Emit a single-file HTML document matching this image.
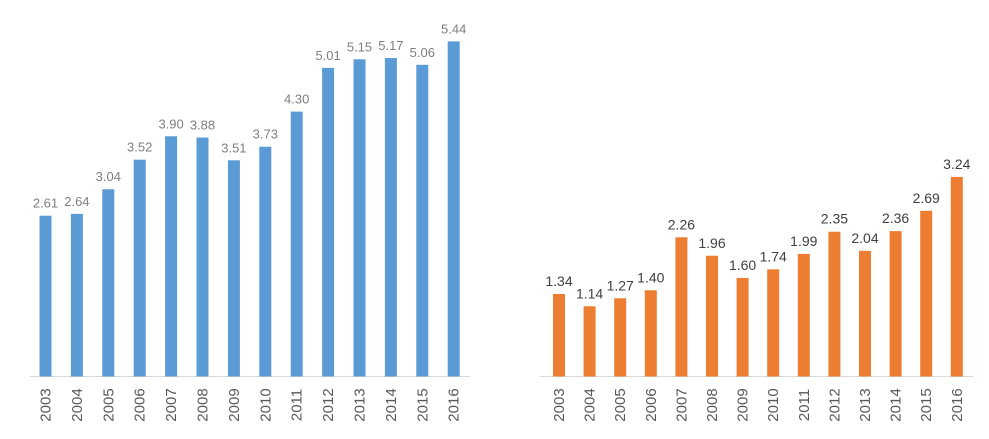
<!DOCTYPE html>
<html><head><meta charset="utf-8"><style>
body{margin:0;background:#fff;}
svg{display:block;font-family:"Liberation Sans",sans-serif;}
</style></head><body>
<svg width="989" height="439" id="svg"></svg>
<script>
const years=["2003","2004","2005","2006","2007","2008","2009","2010","2011","2012","2013","2014","2015","2016"];
const leftValues=[2.61,2.64,3.04,3.52,3.90,3.88,3.51,3.73,4.30,5.01,5.15,5.17,5.06,5.44];
const rightValues=[1.34,1.14,1.27,1.40,2.26,1.96,1.60,1.74,1.99,2.35,2.04,2.36,2.69,3.24];
const NS="http://www.w3.org/2000/svg";
const svg=document.getElementById('svg');
function mk(t,a){const e=document.createElementNS(NS,t);for(const k in a)e.setAttribute(k,a[k]);svg.appendChild(e);return e;}
const baseY=376.5, pxPerUnit=61.6;
function yScale(v){return baseY-v*pxPerUnit;}
function drawChart(prefix,vals,x0,step,axL,axR,color,lblColor,lblSize){
  const ax=mk('line',{x1:axL,x2:axR,y1:baseY,y2:baseY,stroke:'#d9d9d9','stroke-width':1});
  
  
  vals.forEach((v,i)=>{
    const cx=x0+i*step;
    const r=mk('rect',{x:cx-6,y:yScale(v),width:12,height:baseY-yScale(v),fill:color});
    
    
    const t=mk('text',{x:cx,y:yScale(v)-8,'text-anchor':'middle','font-size':lblSize,fill:lblColor});
    t.textContent=v.toFixed(2);
    
    
    const yt=mk('text',{x:0,y:0,'text-anchor':'middle','font-size':15,fill:'#595959',transform:`translate(${cx+5},405) rotate(-90)`});
    yt.textContent=years[i];
    
    
  });
}
drawChart('left',leftValues,45.5,31.4,30,470,'#5b9bd5','#7f7f7f',13);
drawChart('right',rightValues,559,30.6,540,973,'#ed7d31','#404040',14);
</script>
</body></html>
